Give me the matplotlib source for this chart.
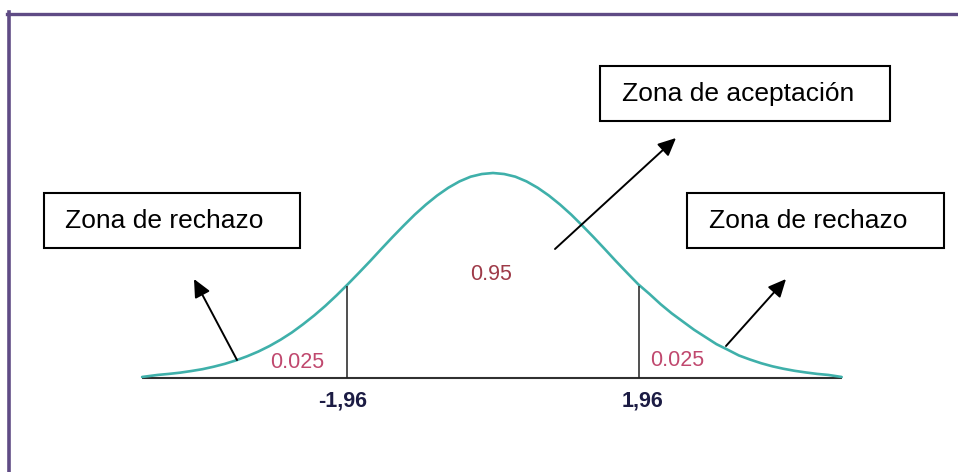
import matplotlib
matplotlib.use("Agg")
import matplotlib.pyplot as plt
from matplotlib.patches import Rectangle
from matplotlib.lines import Line2D

plt.rcParams['font.family'] = ['Liberation Sans', 'DejaVu Sans']

# bell curve (z units, height relative to the peak)
z_pts = [-4.71, -4.5, -4.35, -4.2, -4.05, -3.9, -3.75, -3.6, -3.45, -3.3,
         -3.15, -3.0, -2.85, -2.7, -2.55, -2.4, -2.25, -2.1, -1.95, -1.8,
         -1.65, -1.5, -1.35, -1.2, -1.05, -0.9, -0.75, -0.6, -0.45, -0.3,
         -0.15, 0.0, 0.15, 0.3, 0.45, 0.6, 0.75, 0.9, 1.05, 1.2, 1.35, 1.5,
         1.65, 1.8, 1.95, 2.1, 2.25, 2.4, 2.55, 2.7, 2.85, 3.0, 3.15, 3.3,
         3.45, 3.6, 3.75, 3.9, 4.05, 4.2, 4.35, 4.5, 4.68]
h_pts = [0.005, 0.015, 0.020, 0.026, 0.034, 0.043, 0.055, 0.069, 0.086,
         0.106, 0.129, 0.156, 0.187, 0.222, 0.262, 0.305, 0.352, 0.403,
         0.457, 0.513, 0.570, 0.629, 0.687, 0.743, 0.797, 0.846, 0.890,
         0.928, 0.959, 0.982, 0.995, 1.0, 0.995, 0.982, 0.959, 0.928, 0.890,
         0.846, 0.797, 0.743, 0.687, 0.629, 0.570, 0.513, 0.457, 0.41, 0.36,
         0.315, 0.275, 0.235, 0.2, 0.165, 0.138, 0.11, 0.09, 0.072, 0.057,
         0.045, 0.035, 0.027, 0.02, 0.015, 0.005]

cut_z = [-1.96, 1.96]
cut_h = [0.45, 0.45]
cut_labels = ['-1,96', '1,96']

area_labels = ['0.025', '0.95', '0.025']
box_labels = ['Zona de rechazo', 'Zona de aceptación', 'Zona de rechazo']

W, H = 958, 472
X0, SX = 493, 74.5   # pixel of z=0, pixels per z unit
Y0, SY = 378, 205    # pixel of baseline, pixels per unit height


def px(x, y):
    # pixel position in the picture -> data coords
    return (x - X0) / SX, (Y0 - y) / SY


fig = plt.figure(figsize=(W / 100, H / 100), dpi=100)
ax = fig.add_axes([0, 0, 1, 1])
ax.set_xlim(px(0, 0)[0], px(W, 0)[0])
ax.set_ylim(px(0, H)[1], px(0, 0)[1])
ax.axis('off')

# purple frame (left and top edges only)
frame_c = '#5f4b85'
fig.add_artist(Line2D([9 / W, 9 / W], [0, 1 - 12 / H], color=frame_c, lw=2.6,
                      transform=fig.transFigure))
fig.add_artist(Line2D([7 / W, 1], [1 - 13.5 / H, 1 - 13.5 / H], color=frame_c,
                      lw=2.4, transform=fig.transFigure))

# baseline, curve, cut lines
ax.plot([z_pts[0], z_pts[-1]], [0, 0], color='#303030', lw=1.5,
        solid_capstyle='butt')
ax.plot(z_pts, h_pts, color='#3fb0aa', lw=1.9, solid_capstyle='round',
        solid_joinstyle='round')
ax.vlines(cut_z, 0, cut_h, color='#202020', lw=1.1)

# tick labels under the cuts
for x, lab in zip([343, 642], cut_labels):
    ax.text(*px(x, 406), lab, ha='center', va='baseline', fontsize=15.5,
            fontweight='bold', color='#1c1c44')

# area labels
for (x, y), lab, c in zip([(297, 368), (491, 280), (677, 366)], area_labels,
                          ['#c0486e', '#9e3a48', '#c0486e']):
    ax.text(*px(x, y), lab, ha='center', va='baseline', fontsize=15.5, color=c)

# boxes with text
boxes = [(44, 193, 300, 248, 65), (600, 66, 890, 121, 622),
         (687, 193, 944, 248, 709)]
for (x1, y1, x2, y2, tx), lab in zip(boxes, box_labels):
    bx, by = px(x1, y2)
    ax.add_patch(Rectangle((bx, by), (x2 - x1) / SX, (y2 - y1) / SY,
                           fill=False, ec='black', lw=1.5))
    ax.text(*px(tx, y1 + 35), lab, ha='left', va='baseline', fontsize=19,
            color='black')

# arrows
arrows = [((237, 360), (194, 279)), ((555, 249), (676, 138)),
          ((726, 346), (786, 279))]
for tail, tip in arrows:
    ax.annotate('', xy=px(*tip), xytext=px(*tail),
                arrowprops=dict(arrowstyle='-|>,head_length=0.6,head_width=0.28',
                                mutation_scale=18, lw=1.4, color='black',
                                shrinkA=0, shrinkB=0))

fig.savefig('out.png', dpi=100, facecolor='white')
